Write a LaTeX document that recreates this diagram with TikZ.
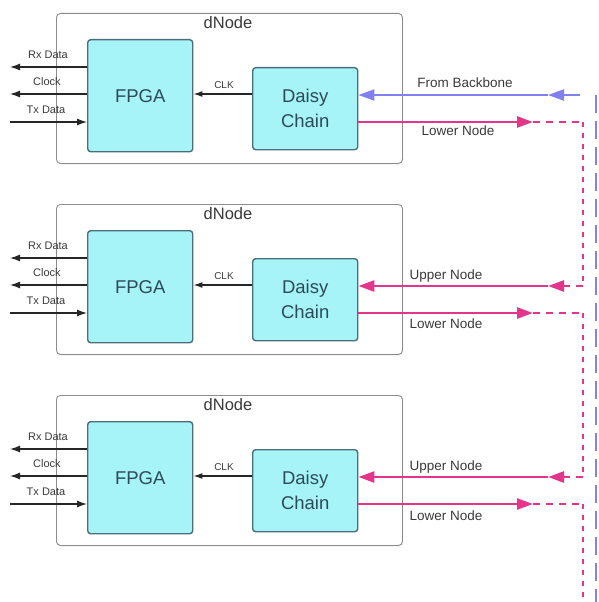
\documentclass[tikz,border=0pt]{standalone}
\usepackage{fontspec}
\setmainfont{Liberation Sans}
\usetikzlibrary{arrows.meta,calc,shadows}
\definecolor{cyanfill}{HTML}{A6F4F8}
\definecolor{tealedge}{HTML}{4A6E7A}
\definecolor{tealtext}{HTML}{2C4A58}
\definecolor{linkpink}{HTML}{E3358B}
\definecolor{bbblue}{HTML}{8080EE}
\definecolor{framegray}{HTML}{8C8C8C}
\definecolor{labelgray}{HTML}{3A3A3A}
\begin{document}
\begin{tikzpicture}[x=1pt,y=-1pt,
  dnodebox/.style={draw=framegray, line width=0.9pt, rounded corners=4pt, fill=white,
    drop shadow={opacity=0.12, shadow xshift=1pt, shadow yshift=-1.2pt},
    minimum width=346pt, minimum height=150pt, anchor=north west, inner sep=0pt},
  unit/.style={draw=tealedge, line width=1.4pt, rounded corners=3pt, fill=cyanfill,
    anchor=north west, inner sep=0pt, text=tealtext, align=center,
    font=\fontsize{18.5}{24}\selectfont},
  title/.style={text=labelgray, font=\fontsize{16.5}{18}\selectfont},
  iolabel/.style={text=labelgray, font=\fontsize{11}{12}\selectfont},
  linklabel/.style={text=labelgray, font=\fontsize{13.5}{15}\selectfont},
  sig/.style={draw=black!85, line width=1.3pt, -{Latex[length=10pt,width=7pt]}},
  pinklink/.style={draw=linkpink, line width=2.6pt, -{Triangle[length=16pt,width=11pt]}},
  bluelink/.style={draw=bbblue, line width=2pt, -{Triangle[length=16pt,width=11pt]}},
  pinkdash/.style={draw=linkpink, line width=2pt, dash pattern=on 7pt off 6pt},
  pinkdrop/.style={draw=linkpink, line width=2pt, dash pattern=on 5pt off 6pt},
  bluedrop/.style={draw=bbblue, line width=2pt, dash pattern=on 18pt off 8pt}]
\useasboundingbox (0,0) rectangle (598,602);

% three identical dNode blocks
\foreach \i/\T in {1/13, 2/204, 3/395} {
  \node[dnodebox] (box\i) at (56,\T) {};
  \node[title] (title\i) at (228,\T+10) {dNode};
  \node[unit, minimum width=105pt, minimum height=112pt] (fpga\i) at (87,\T+26) {FPGA};
  \node[unit, minimum width=105pt, minimum height=82pt] (dc\i) at (252,\T+54) {Daisy\\[1pt]Chain};
  % FPGA side ports
  \coordinate (rx\i) at (10,\T+54);
  \coordinate (ck\i) at (10,\T+81);
  \coordinate (tx\i) at (10,\T+109);
  \draw[sig] (fpga\i.west |- rx\i) -- (rx\i);
  \draw[sig] (fpga\i.west |- ck\i) -- (ck\i);
  \draw[sig] (tx\i) -- (fpga\i.west |- tx\i);
  \node[iolabel] (rxl\i) at (48,\T+42) {Rx Data};
  \node[iolabel] (ckl\i) at (47,\T+69) {Clock};
  \node[iolabel] (txl\i) at (46,\T+97) {Tx Data};
  % clock from the daisy chain to the FPGA
  \draw[sig, -{Latex[length=9pt,width=6pt]}] (dc\i.west |- ck\i) -- (fpga\i.east |- ck\i);
  \node[iolabel, font=\fontsize{10}{11}\selectfont] (clkl\i) at (224,\T+72) {CLK};
  % link end points on the right
  \coordinate (upin\i) at (dc\i.east |- 0,\T+82);
  \coordinate (loout\i) at (dc\i.east |- 0,\T+109);
  \coordinate (upmid\i) at (548,\T+82);
  \coordinate (lotip\i) at (533,\T+109);
  \coordinate (bus\i) at (583,\T+109);
  \draw[pinklink] (loout\i) -- (lotip\i);
  \draw[pinkdash] (lotip\i) -- (bus\i);
}

% backbone feed into the first block
\coordinate (bbstart) at (580,95);
\coordinate (bbtop) at (596,95);
\coordinate (bbend) at (596,602);
\draw[bluelink] (bbstart) -- (upmid1);
\draw[bluelink] (upmid1) -- (upin1);
\draw[bluedrop] (bbtop) -- (bbend);
\node[linklabel] (fbl) at (465,83) {From Backbone};
\node[linklabel] (lol1) at (458,131) {Lower Node};

% chained links between blocks
\foreach \i/\j in {1/2, 2/3} {
  \coordinate (upbus\j) at (583,0 |- upmid\j);
  \draw[pinkdrop] (bus\i) -- (upbus\j);
  \draw[pinkdash] (upbus\j) -- ($(upmid\j)+(10,0)$);
  \draw[pinklink] ($(upbus\j)+(-22,0)$) -- (upmid\j);
  \draw[pinklink] (upmid\j) -- (upin\j);
}
\node[linklabel] (upl2) at (446,276) {Upper Node};
\node[linklabel] (lol2) at (446,324) {Lower Node};
\node[linklabel] (upl3) at (446,467) {Upper Node};
\node[linklabel] (lol3) at (446,516) {Lower Node};

\coordinate (busend) at (583,602);
\draw[pinkdrop] (bus3) -- (busend);
\end{tikzpicture}
\end{document}
